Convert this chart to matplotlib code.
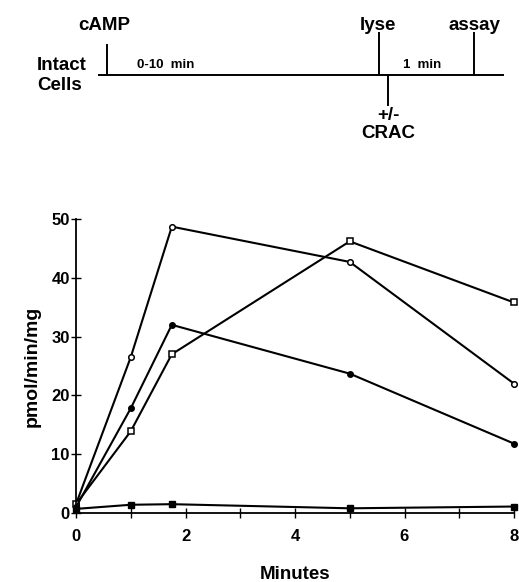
import matplotlib
matplotlib.use("Agg")
import matplotlib.pyplot as plt

plt.rcParams['font.family'] = ['Liberation Sans', 'DejaVu Sans']

minutes = [0, 1, 1.75, 5, 8]
open_circle = [1.5, 26.5, 48.7, 42.7, 22.0]
open_square = [1.5, 13.9, 27.0, 46.2, 35.8]
filled_circle = [1.0, 17.8, 32.0, 23.7, 11.8]
filled_square = [0.7, 1.4, 1.5, 0.8, 1.1]

x_ticks = [0, 2, 4, 6, 8]
y_ticks = [0, 10, 20, 30, 40, 50]

W, H = 519, 582
fig = plt.figure(figsize=(W / 100, H / 100), dpi=100)

ax = fig.add_axes([76 / W, 1 - 513 / H, (514 - 76) / W, (513 - 219) / H])
lw = 1.5
ms = 4.0
ax.plot(minutes, open_circle, '-o', color='black', lw=lw, ms=ms, mfc='white', mec='black', mew=1.1, clip_on=False)
ax.plot(minutes, open_square, '-s', color='black', lw=lw, ms=ms, mfc='white', mec='black', mew=1.1, clip_on=False)
ax.plot(minutes, filled_circle, '-o', color='black', lw=lw, ms=ms, mfc='black', mec='black', clip_on=False)
ax.plot(minutes, filled_square, '-s', color='black', lw=lw, ms=ms, mfc='black', mec='black', clip_on=False)

ax.set_xlim(0, 8)
ax.set_ylim(0, 50)
ax.set_xticks(x_ticks)
ax.set_xticks([1, 3, 5, 7], minor=True)
ax.set_yticks(y_ticks)
for s in ['top', 'right']:
    ax.spines[s].set_visible(False)
for s in ['left', 'bottom']:
    ax.spines[s].set_linewidth(1.3)
ax.tick_params(axis='both', which='both', direction='inout', length=7, width=1.0, labelsize=12)
ax.tick_params(axis='x', pad=8)
ax.tick_params(axis='y', pad=1)
for lab in ax.get_xticklabels() + ax.get_yticklabels():
    lab.set_fontweight('bold')
ax.set_xlabel('Minutes', fontsize=13.5, fontweight='bold', labelpad=16)
ax.set_ylabel('pmol/min/mg', fontsize=14, fontweight='bold', labelpad=8)

# schematic timeline at top (overlay in pixel coordinates)
ov = fig.add_axes([0, 0, 1, 1])
ov.set_xlim(0, W)
ov.set_ylim(H, 0)
ov.axis('off')
kw = dict(color='black', lw=1.4)
ov.plot([99, 503], [75, 75], **kw)
ov.plot([107, 107], [45, 75], **kw)
ov.plot([379, 379], [33, 75], **kw)
ov.plot([474, 474], [33, 75], **kw)
ov.plot([388, 388], [75, 105], **kw)
tk = dict(fontsize=13.5, fontweight='bold')
ov.text(78, 26, 'cAMP', ha='left', va='center', **tk)
ov.text(378, 26, 'lyse', ha='center', va='center', **tk)
ov.text(474, 26, 'assay', ha='center', va='center', **tk)
ov.text(37, 66, 'Intact', ha='left', va='center', **tk)
ov.text(37, 85, 'Cells', ha='left', va='center', **tk)
ov.text(137, 71, '0-10  min', fontsize=9.5, ha='left', va='bottom', fontweight='bold')
ov.text(403, 71, '1  min', fontsize=9.5, ha='left', va='bottom', fontweight='bold')
ov.text(388, 116, '+/-', ha='center', va='center', **tk)
ov.text(388, 133, 'CRAC', ha='center', va='center', **tk)

fig.savefig('out.png', dpi=100)
